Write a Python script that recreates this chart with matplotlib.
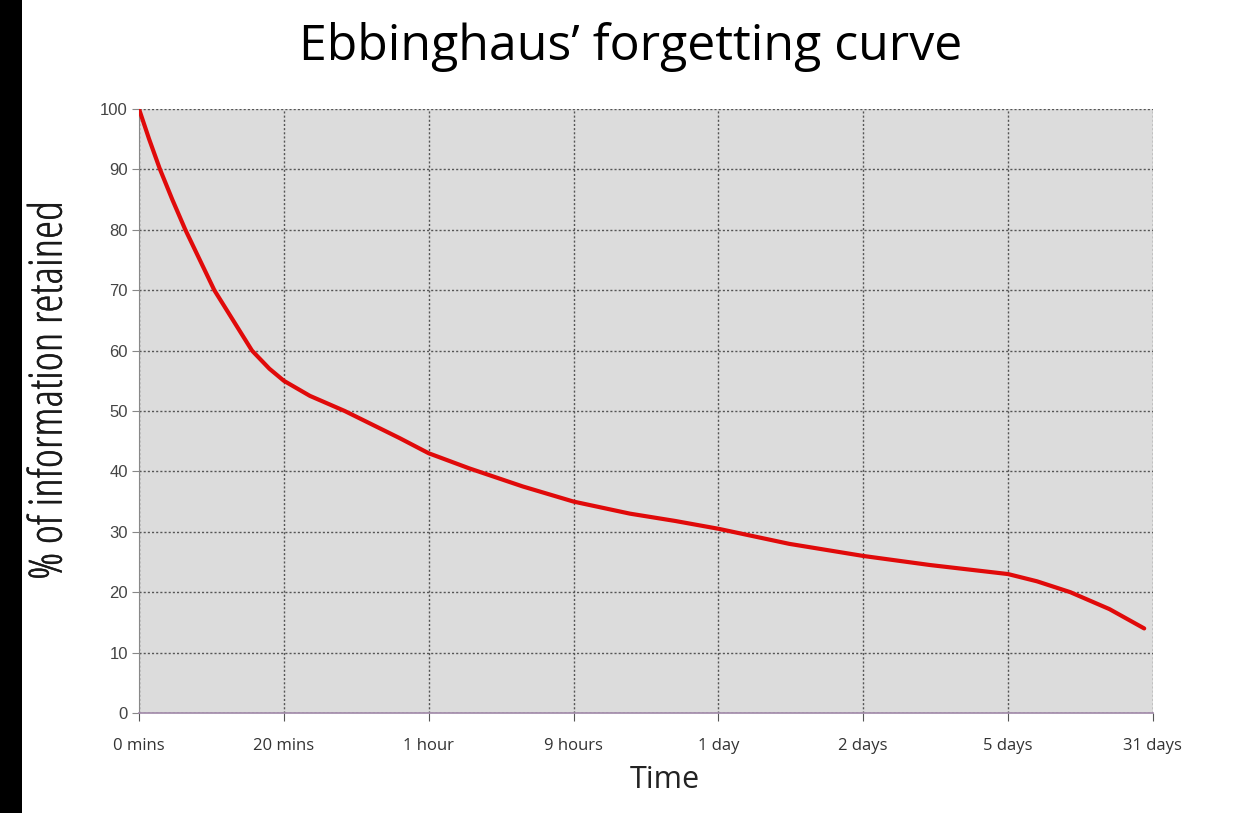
import numpy as np
import matplotlib.pyplot as plt
import matplotlib.patheffects as pe
from matplotlib.patches import Rectangle

# tick labels along the time axis (evenly spaced categories)
time_labels = ['0 mins', '20 mins', '1 hour', '9 hours', '1 day', '2 days', '5 days', '31 days']

# curve: position along the category axis, % retained
curve_pos = [0.0, 0.07, 0.145, 0.23, 0.32, 0.42, 0.52, 0.65, 0.78, 0.9, 1.0, 1.18, 1.42, 1.8,
             2.0, 2.28, 2.65, 3.0, 3.39, 3.7, 4.0, 4.49, 5.0, 5.46, 6.0, 6.2, 6.43, 6.7, 6.94]
retained = [100, 95, 90, 85, 80, 75, 70, 65, 60, 57, 55, 52.5, 50, 45.5,
            43, 40.5, 37.5, 35, 33, 31.8, 30.5, 28, 26, 24.5, 23, 21.8, 20, 17.2, 14]

fig = plt.figure(figsize=(12.41, 8.13), dpi=100)
ax = fig.add_axes([0.112, 0.123, 0.817, 0.743])
ax.set_facecolor('#dcdcdc')

ax.plot(curve_pos, retained, color='#e00a0a', lw=3, solid_capstyle='round', zorder=3)

ax.set_xlim(0, len(time_labels) - 1)
ax.set_ylim(0, 100)
ax.set_xticks(range(len(time_labels)))
ax.set_xticklabels(time_labels, fontsize=12, color='#333333', family='Open Sans')
ax.set_yticks(range(0, 101, 10))
for lbl in ax.get_yticklabels():
    lbl.set_fontsize(12)
    lbl.set_color('#444444')
    lbl.set_family('Liberation Sans')

ax.grid(True, linestyle=(0, (1.5, 1.5)), color='#555555', lw=1)
for s in ['top', 'right']:
    ax.spines[s].set_visible(False)
ax.spines['left'].set_color('#888888')
ax.spines['bottom'].set_color('#a088a8')
ax.spines['bottom'].set_linewidth(1.2)
ax.tick_params(axis='x', length=6, color='#555555', pad=12)
ax.tick_params(axis='y', length=5, color='#888888', pad=3)

fig.text(0.508, 0.942, 'Ebbinghaus\u2019 forgetting curve', ha='center', va='center',
         fontsize=36, family='Open Sans')
fig.text(0.04, 0.52, '% of information retained', rotation=90, ha='center', va='center',
         fontsize=33, family='Open Sans', stretch='condensed', color='#1a1a1a',
         path_effects=[pe.withStroke(linewidth=0.3, foreground='#1a1a1a')])
fig.text(0.536, 0.04, 'Time', ha='center', va='center', fontsize=22, family='Open Sans',
         color='#222222')

# black strip at the left edge of the screenshot
fig.patches.append(Rectangle((0, 0), 0.018, 1, transform=fig.transFigure,
                             facecolor='black', edgecolor='none'))

fig.savefig('out.png', dpi=100)
